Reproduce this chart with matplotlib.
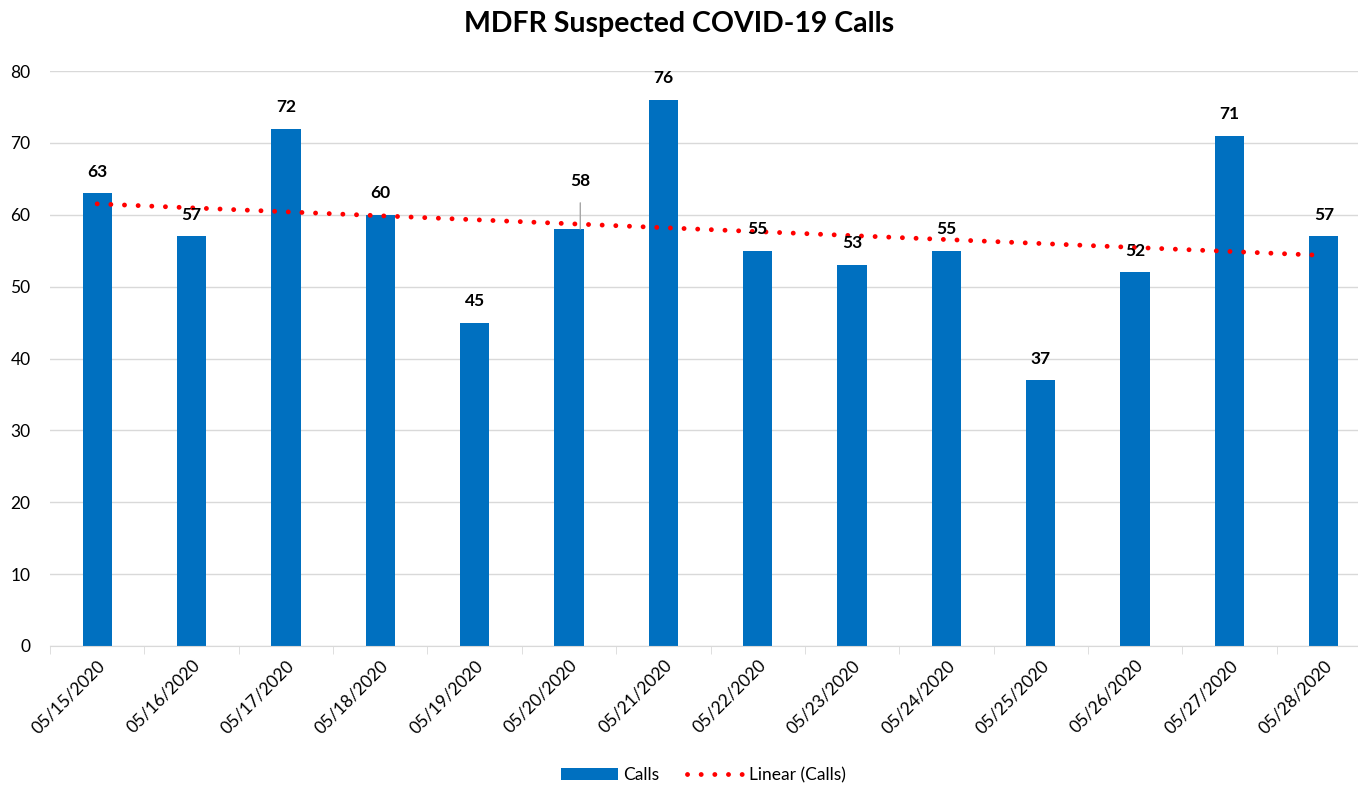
import numpy as np
import matplotlib.pyplot as plt

plt.rcParams['font.family'] = ['Lato', 'DejaVu Sans']

dates = ["05/15/2020", "05/16/2020", "05/17/2020", "05/18/2020", "05/19/2020",
         "05/20/2020", "05/21/2020", "05/22/2020", "05/23/2020", "05/24/2020",
         "05/25/2020", "05/26/2020", "05/27/2020", "05/28/2020"]
calls = [63, 57, 72, 60, 45, 58, 76, 55, 53, 55, 37, 52, 71, 57]


def main():
    W, H = 1358, 789
    fig = plt.figure(figsize=(W / 100, H / 100), dpi=100)
    ax = fig.add_axes([50 / W, 143 / H, 1321 / W, 575 / H])

    x = np.arange(len(calls))
    bars = ax.bar(x, calls, width=0.31, color="#0070c0", zorder=2, label="Calls")

    # linear trend line, like Excel's "Linear (Calls)"
    k, b = np.polyfit(x, calls, 1)
    trend, = ax.plot(x, k * x + b, color="red", linestyle=(0, (0.01, 2.8)),
                     linewidth=3.5, dash_capstyle="round", zorder=3,
                     label="Linear (Calls)")

    for i, v in enumerate(calls):
        if dates[i] == "05/20/2020":
            ax.annotate(str(v), xy=(i + 0.12, v), xytext=(i + 0.12, v + 6.7),
                        ha="center", va="center", fontsize=12.5, fontweight="bold",
                        arrowprops=dict(arrowstyle="-", color="#a6a6a6", lw=1,
                                        shrinkA=8, shrinkB=0))
        else:
            ax.text(i, v + 3, str(v), ha="center", va="center",
                    fontsize=12.5, fontweight="bold", zorder=4)

    ax.set_ylim(0, 80)
    ax.set_yticks(range(0, 81, 10))
    ax.set_xlim(-0.5, 13.5)
    ax.set_xticks(x)
    ax.set_xticklabels(dates, rotation=45, ha="right", rotation_mode="anchor",
                       fontsize=12.5)
    ax.tick_params(axis="x", length=0, pad=8)
    ax.set_xticks(np.arange(-0.5, 14, 1), minor=True)
    ax.tick_params(axis="x", which="minor", length=6, color="#d9d9d9")
    ax.tick_params(axis="y", length=0, labelsize=12.5, pad=14)
    ax.grid(axis="y", color="#d9d9d9", linewidth=1, zorder=0)
    for s in ["top", "right", "left"]:
        ax.spines[s].set_visible(False)
    ax.spines["bottom"].set_color("#d9d9d9")

    fig.text(0.5, 1 - 24 / H, "MDFR Suspected COVID-19 Calls", ha="center",
             va="center", fontsize=20.5, fontweight="bold")

    fig.legend([bars, trend], ["Calls", "Linear (Calls)"], loc="center",
               bbox_to_anchor=(0.518, 1 - 775 / H), ncol=2, frameon=False,
               fontsize=12.5, handlelength=3.3, columnspacing=1.6,
               handletextpad=0.3)

    plt.savefig("out.png")


if __name__ == "__main__":
    main()
